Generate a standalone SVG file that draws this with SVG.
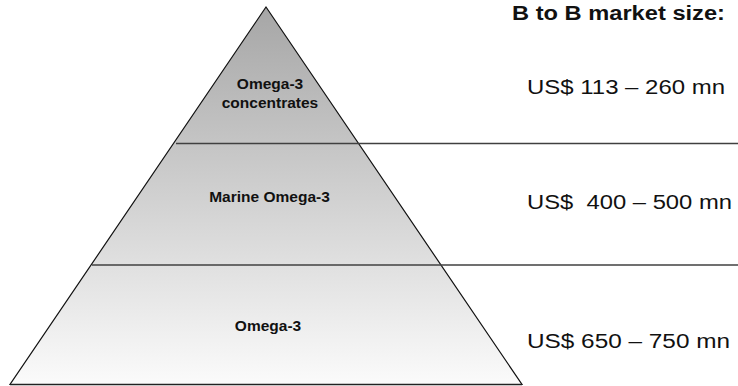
<svg xmlns="http://www.w3.org/2000/svg" width="738" height="386" viewBox="0 0 738 386">
  <style>
    .lbl { font-family: "Liberation Sans", Arial, sans-serif; font-weight: bold; font-size: 15.5px; fill: #111; text-anchor: middle; }
    .val { font-family: "Liberation Sans", Arial, sans-serif; font-size: 20px; fill: #111; }
    .hdr { font-family: "Liberation Sans", Arial, sans-serif; font-weight: bold; font-size: 19.5px; fill: #111; }
    .div { stroke: #404040; stroke-width: 1.4; fill: none; }
  </style>
  <defs>
    <linearGradient id="g" x1="0" y1="7" x2="0" y2="385" gradientUnits="userSpaceOnUse">
      <stop offset="0" stop-color="#a6a6a6"/>
      <stop offset="1" stop-color="#fbfbfb"/>
    </linearGradient>
  </defs>
  <rect width="738" height="386" fill="#ffffff"/>
  <g id="pyramid">
    <polygon points="266,7 522,384.5 10,384.5" fill="url(#g)" stroke="#111" stroke-width="1.2" stroke-linejoin="miter"/>
    <line x1="10" y1="384.5" x2="522" y2="384.5" stroke="#222" stroke-width="1.6"/>
  </g>
  <g id="connectors">
    <line class="div" x1="176" y1="143.5" x2="738" y2="143.5"/>
    <line class="div" x1="92" y1="265" x2="738" y2="265"/>
  </g>
  <g id="tier-concentrates">
    <text class="lbl" x="270" y="89">Omega-3</text>
    <text class="lbl" x="270" y="108">concentrates</text>
  </g>
  <g id="tier-marine">
    <text class="lbl" x="269.5" y="202">Marine Omega-3</text>
  </g>
  <g id="tier-omega3">
    <text class="lbl" x="268" y="331">Omega-3</text>
  </g>
  <g id="header">
    <text class="hdr" x="512" y="20" textLength="213" lengthAdjust="spacingAndGlyphs">B to B market size:</text>
  </g>
  <g id="value-1">
    <text class="val" x="527" y="94" textLength="198" lengthAdjust="spacingAndGlyphs">US$ 113 – 260 mn</text>
  </g>
  <g id="value-2">
    <text class="val" x="527" y="209" textLength="205" lengthAdjust="spacingAndGlyphs" xml:space="preserve">US$  400 – 500 mn</text>
  </g>
  <g id="value-3">
    <text class="val" x="527" y="348" textLength="203" lengthAdjust="spacingAndGlyphs">US$ 650 – 750 mn</text>
  </g>
</svg>
